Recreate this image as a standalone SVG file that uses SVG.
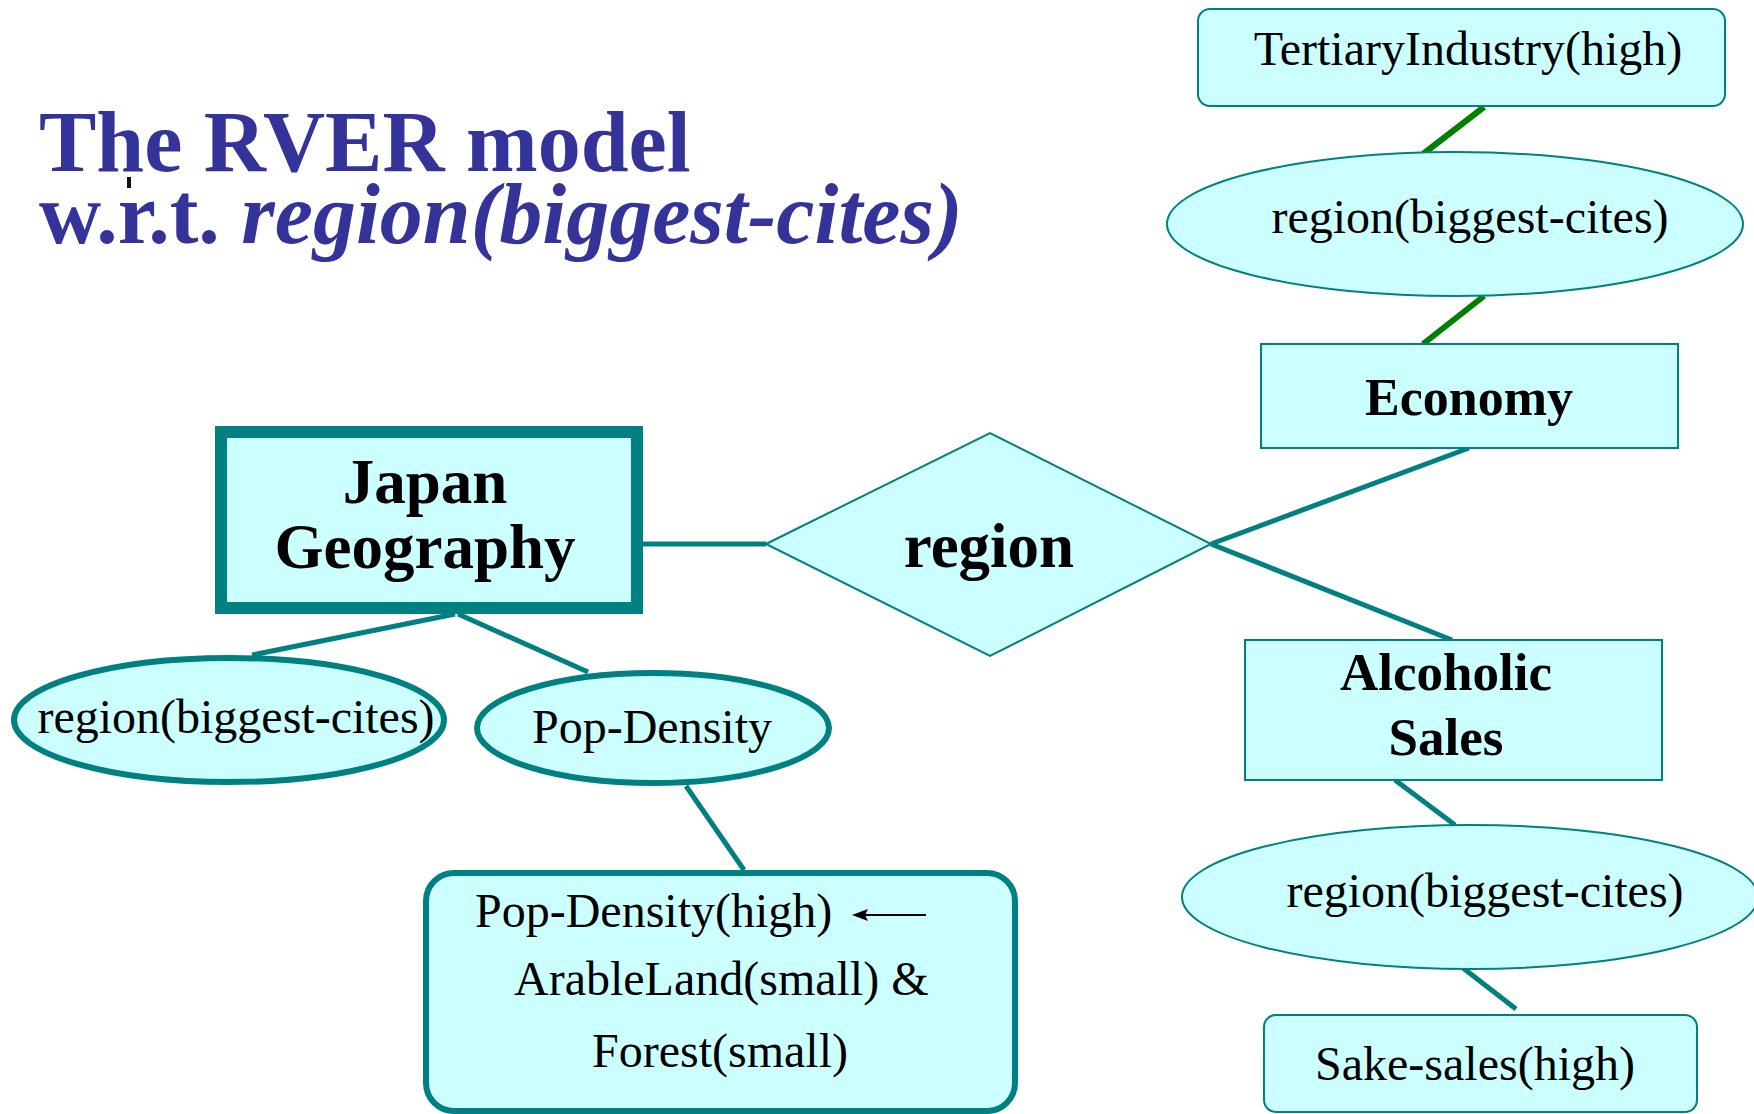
<svg xmlns="http://www.w3.org/2000/svg" width="1754" height="1114" viewBox="0 0 1754 1114">
  <style>
    .title { font-family: "Liberation Serif", "Times New Roman", serif; font-weight: bold; font-size: 86px; fill: #333399; }
    .lbl { font-family: "Liberation Serif", "Times New Roman", serif; font-size: 48px; fill: #000; }
    .ent { font-family: "Liberation Serif", "Times New Roman", serif; font-weight: bold; fill: #000; }
    .s52 { font-size: 52px; }
    .s53 { font-size: 53px; }
    .s63 { font-size: 63px; }
    .shape { fill: #CCFFFF; stroke: #008080; stroke-width: 2; }
    .thick { stroke-width: 6; }
    .heavy { stroke-width: 12; }
    .link { stroke: #008080; stroke-width: 5; fill: none; }
    .glink { stroke: #008000; stroke-width: 6; fill: none; }
  </style>
  <rect width="1754" height="1114" fill="#fff"/>

  <!-- heading -->
  <g id="title">
    <text class="title" x="39" y="171">The RVER model</text>
    <text class="title" x="39" y="243">w.r.t. <tspan font-style="italic">region(biggest-cites)</tspan></text>
    <rect x="127" y="177" width="4" height="11" fill="#111"/>
  </g>

  <!-- connectors -->
  <g id="connectors">
    <line class="glink" x1="1484" y1="107" x2="1423" y2="154"/>
    <line class="glink" x1="1484" y1="296" x2="1423" y2="344"/>
    <line class="link" x1="643" y1="544" x2="766" y2="544"/>
    <line class="link" x1="1211" y1="544" x2="1469" y2="448"/>
    <line class="link" x1="1211" y1="544" x2="1452" y2="640"/>
    <line class="link" x1="455" y1="614" x2="252" y2="655"/>
    <line class="link" x1="458" y1="614" x2="588" y2="672"/>
    <line class="link" x1="686" y1="786" x2="744" y2="870"/>
    <line class="link" x1="1395" y1="780" x2="1455" y2="825"/>
    <line class="link" x1="1463" y1="968" x2="1516" y2="1009"/>
  </g>

  <!-- nodes -->
  <g id="tertiary-industry">
    <rect class="shape" x="1198" y="9" width="527" height="97" rx="12"/>
    <text class="lbl" x="1468" y="65" text-anchor="middle">TertiaryIndustry(high)</text>
  </g>

  <g id="economy-region-attr">
    <ellipse class="shape" cx="1455" cy="224" rx="288" ry="72"/>
    <text class="lbl" x="1470" y="233" text-anchor="middle">region(biggest-cites)</text>
  </g>

  <g id="economy">
    <rect class="shape" x="1261" y="344" width="417" height="104"/>
    <text class="ent s52" x="1469" y="415" text-anchor="middle">Economy</text>
  </g>

  <g id="japan-geography">
    <rect class="shape heavy" x="221" y="432" width="416" height="176"/>
    <text class="ent s63" x="425" y="503" text-anchor="middle">Japan</text>
    <text class="ent s63" x="425" y="568" text-anchor="middle">Geography</text>
  </g>

  <g id="region-relationship">
    <polygon class="shape" points="766,544 990,433 1211,544 990,656"/>
    <text class="ent s63" x="989" y="567" text-anchor="middle">region</text>
  </g>

  <g id="japan-region-attr">
    <ellipse class="shape thick" cx="229" cy="720" rx="215" ry="62"/>
    <text class="lbl" x="236" y="733" text-anchor="middle">region(biggest-cites)</text>
  </g>

  <g id="pop-density">
    <ellipse class="shape thick" cx="653" cy="728" rx="176" ry="55"/>
    <text class="lbl" x="652" y="743" text-anchor="middle">Pop-Density</text>
  </g>

  <g id="pop-density-rule">
    <rect class="shape thick" x="426" y="873" width="589" height="238" rx="28"/>
    <text class="lbl" x="475" y="927">Pop-Density(high)</text>
    <line x1="926" y1="915" x2="864" y2="915" stroke="#000" stroke-width="2"/>
    <polygon points="852,915 868,909 865,915 868,921" fill="#000"/>
    <text class="lbl" x="514" y="995">ArableLand(small) &amp;</text>
    <text class="lbl" x="720" y="1067" text-anchor="middle">Forest(small)</text>
  </g>

  <g id="alcoholic-sales">
    <rect class="shape" x="1245" y="640" width="417" height="140"/>
    <text class="ent s53" x="1446" y="690" text-anchor="middle">Alcoholic</text>
    <text class="ent s53" x="1446" y="755" text-anchor="middle">Sales</text>
  </g>

  <g id="sales-region-attr">
    <ellipse class="shape" cx="1470" cy="897" rx="288" ry="72"/>
    <text class="lbl" x="1485" y="907" text-anchor="middle">region(biggest-cites)</text>
  </g>

  <g id="sake-sales">
    <rect class="shape" x="1264" y="1015" width="433" height="97" rx="12"/>
    <text class="lbl" x="1475" y="1080" text-anchor="middle">Sake-sales(high)</text>
  </g>
</svg>
